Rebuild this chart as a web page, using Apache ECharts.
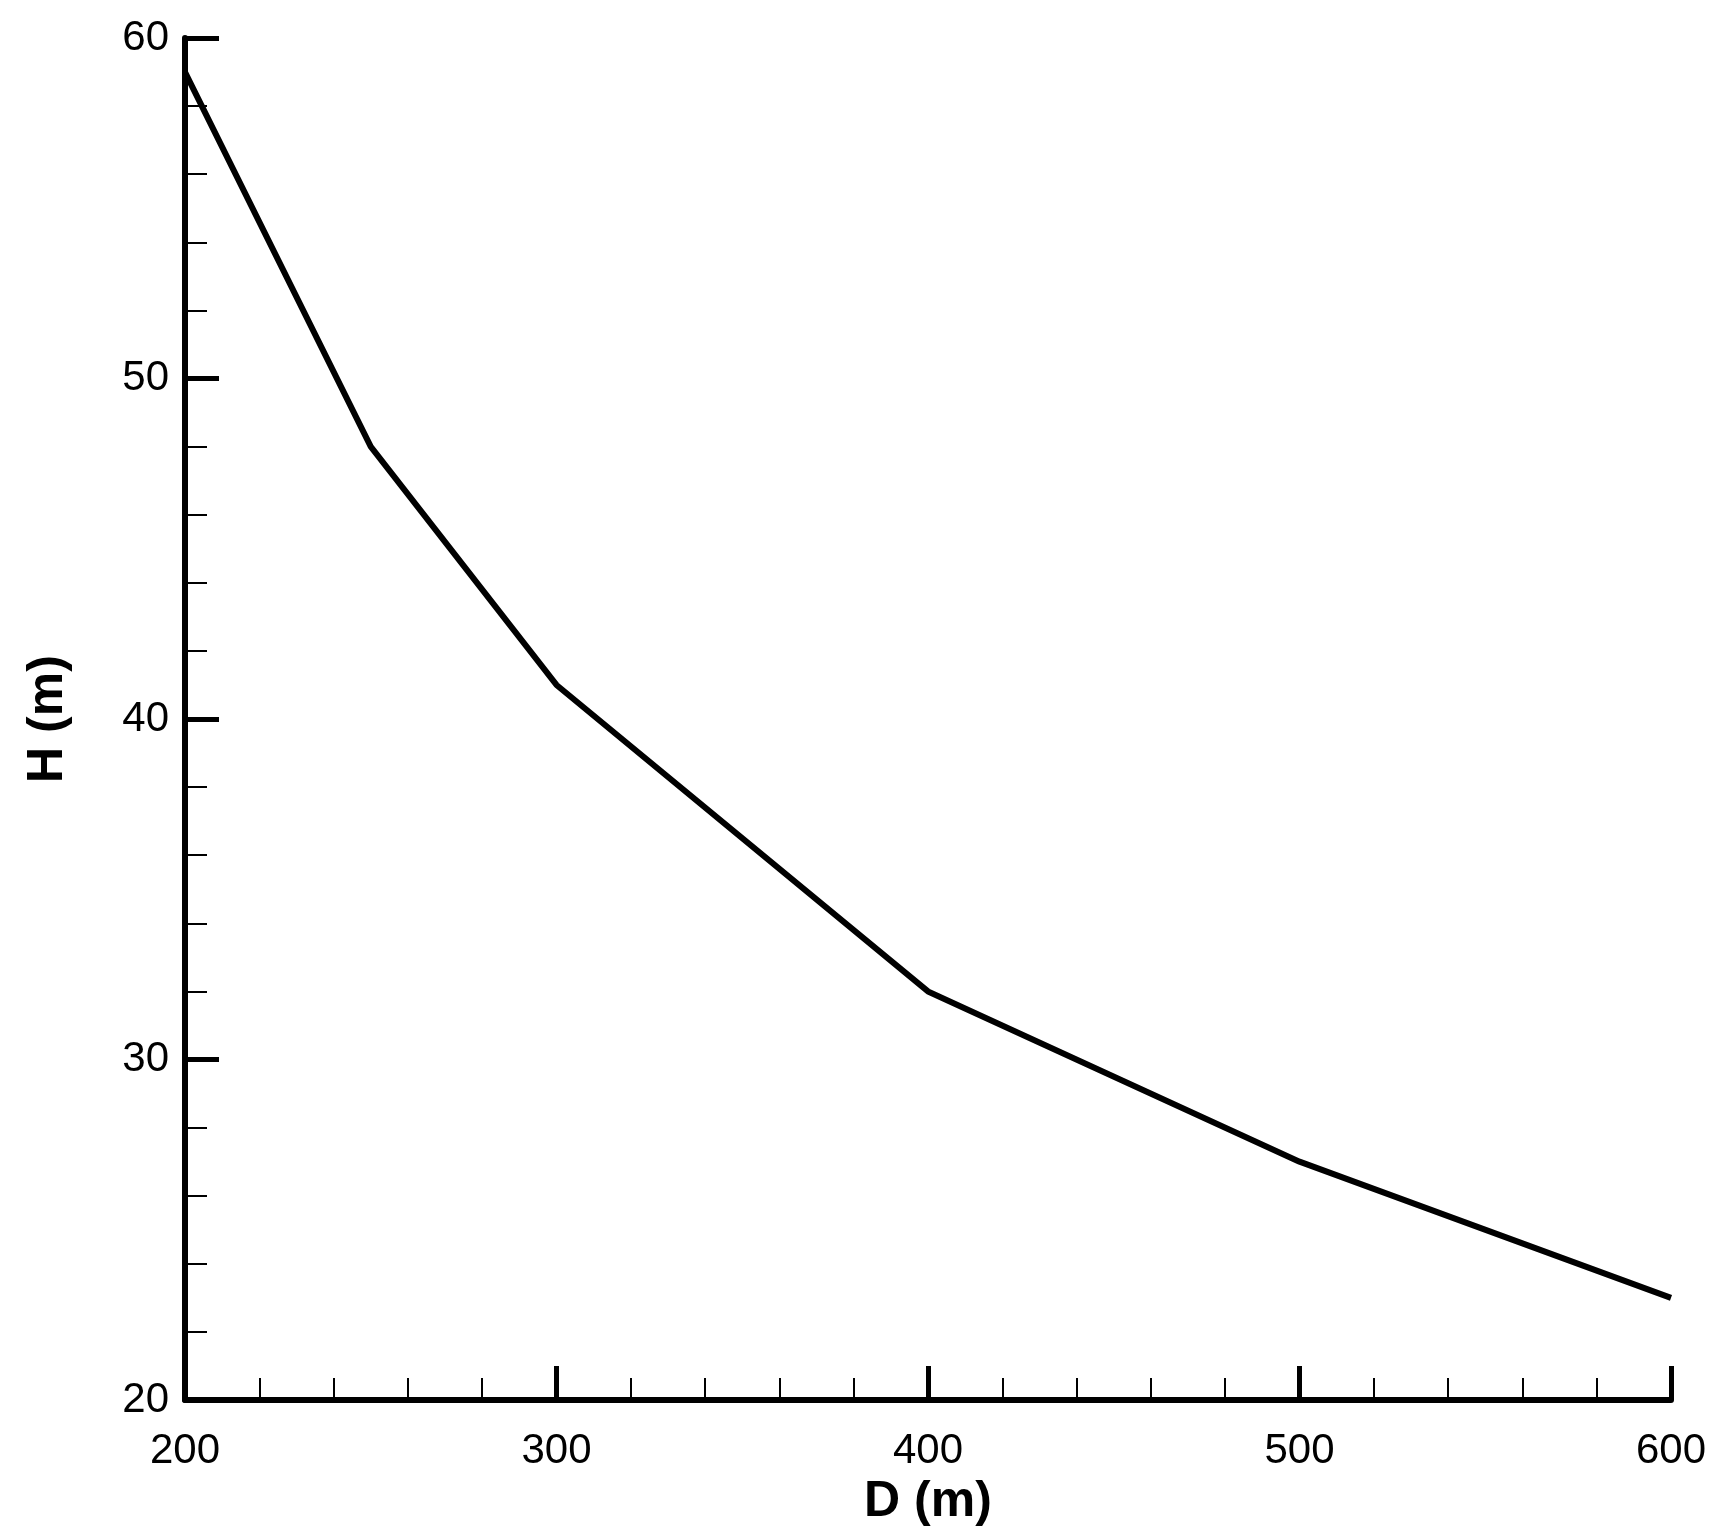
<!DOCTYPE html>
<html><head><meta charset="utf-8">
<script src="https://cdn.jsdelivr.net/npm/echarts@6/dist/echarts.min.js"></script>
<style>html,body{margin:0;background:#fff}#chart{width:1717px;height:1537px}</style>
</head><body><div id="chart"></div>
<script>
var dValues = [200, 250, 300, 400, 500, 600];
var hValues = [59, 48, 41, 32, 27, 23];

var font = '"Liberation Sans", Arial, sans-serif';
var chart = echarts.init(document.getElementById('chart'));
chart.setOption({
	animation: false,
	grid: {left: 185, right: 46, top: 38, bottom: 137},
	xAxis: {
		type: 'value', min: 200, max: 600, interval: 100,
		name: 'D (m)', nameLocation: 'middle', nameGap: 72,
		nameTextStyle: {fontFamily: font, fontWeight: 'bold', fontSize: 50, color: '#000'},
		axisLine: {lineStyle: {color: '#000', width: 6}},
		axisTick: {inside: true, length: 34, lineStyle: {color: '#000', width: 5}},
		minorTick: {show: true, splitNumber: 5, length: 22, lineStyle: {color: '#000', width: 2}},
		axisLabel: {fontFamily: font, fontSize: 42, color: '#000', margin: 30},
		splitLine: {show: false}
	},
	yAxis: {
		type: 'value', min: 20, max: 60, interval: 10,
		name: 'H (m)', nameLocation: 'middle', nameGap: 112, nameRotate: 90,
		nameTextStyle: {fontFamily: font, fontWeight: 'bold', fontSize: 50, color: '#000'},
		axisLine: {lineStyle: {color: '#000', width: 6}},
		axisTick: {inside: true, length: 34, lineStyle: {color: '#000', width: 5}},
		minorTick: {show: true, splitNumber: 5, length: 22, lineStyle: {color: '#000', width: 2}},
		axisLabel: {fontFamily: font, fontSize: 42, color: '#000', margin: 16},
		splitLine: {show: false}
	},
	series: [{
		type: 'line',
		data: dValues.map(function(d, i){ return [d, hValues[i]]; }),
		showSymbol: false,
		lineStyle: {color: '#000', width: 6}
	}]
});
</script></body></html>
